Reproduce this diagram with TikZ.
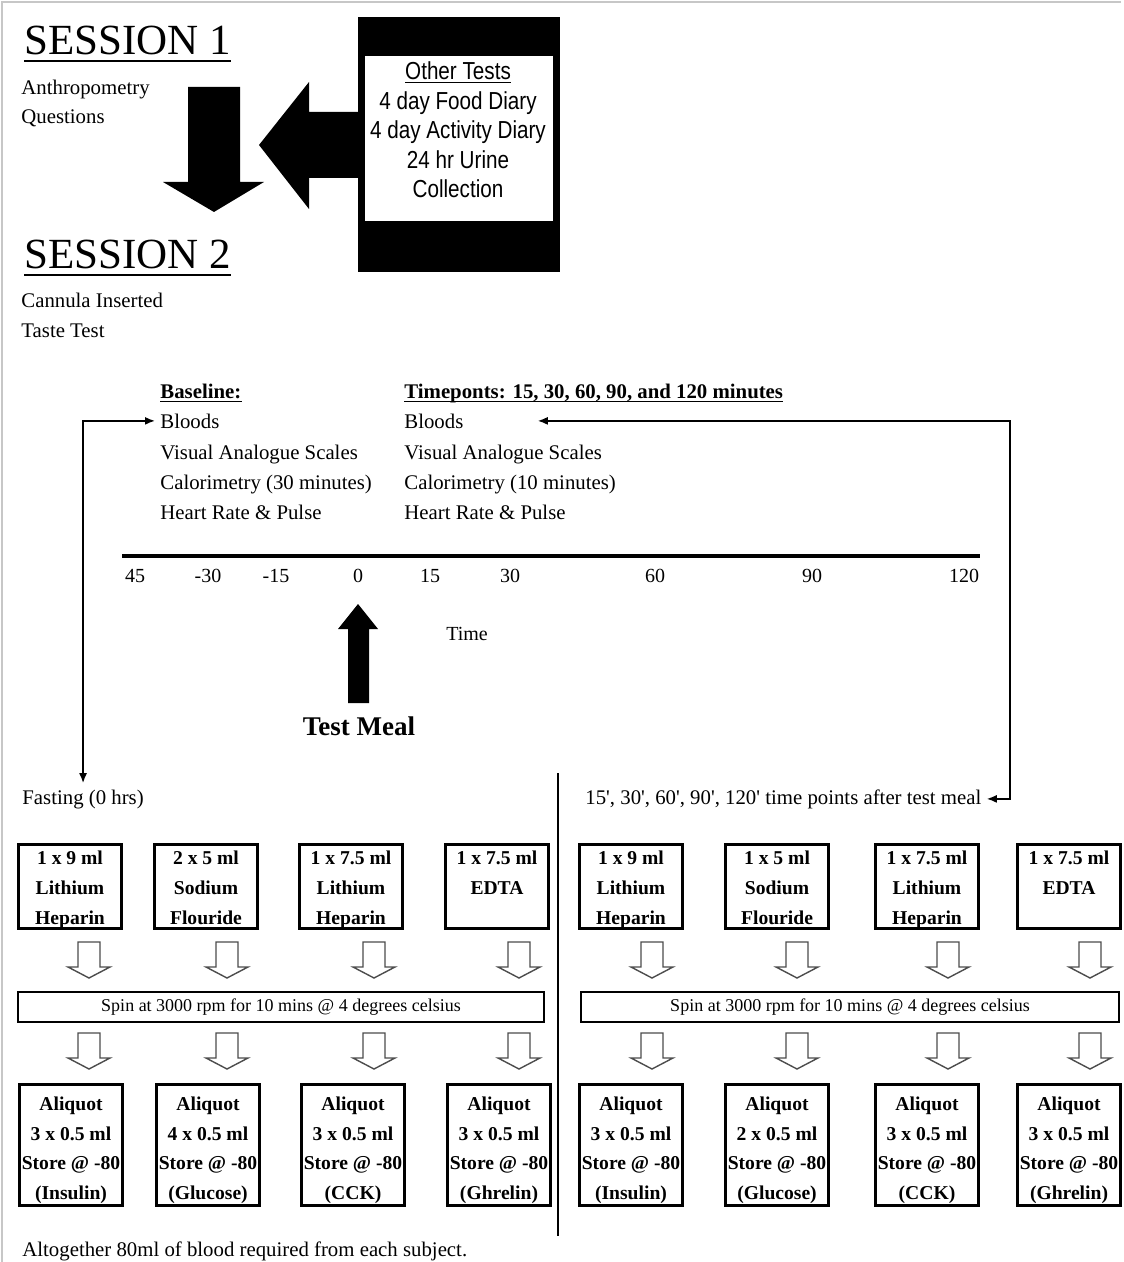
\documentclass[tikz,border=0pt]{standalone}
\usepackage{fontspec}
\setmainfont{Liberation Serif}
\newfontfamily\narrowsans[FakeStretch=0.84]{Liberation Sans}
\usetikzlibrary{arrows.meta,calc,positioning}
\newcommand\tubetop{\rule{0pt}{9.8pt}}
\newcommand\alitop{\rule{0pt}{12pt}}
\tikzset{
txt/.style={
  inner sep=0pt,
  anchor=base west,
  font=\fontsize{10.4}{12}\selectfont,
  }
}
\tikzset{
headtxt/.style={
  txt,
  font=\fontsize{10.4}{12}\selectfont\bfseries,
  }
}
\tikzset{
title/.style={
  inner sep=0pt,
  anchor=base west,
  font=\fontsize{21.5}{24}\selectfont,
  }
}
\tikzset{
tick/.style={
  inner sep=0pt,
  anchor=base,
  font=\fontsize{10}{12}\selectfont,
  }
}
\tikzset{
tube/.style={
  draw=black,
  line width=1.5pt,
  minimum width=51.5pt,
  minimum height=42pt,
  inner sep=0pt,
  align=center,
  font=\fontsize{9.8}{15}\selectfont\bfseries,
  }
}
\tikzset{
aliquot/.style={
  tube,
  minimum height=60.5pt,
  font=\fontsize{9.8}{14.7}\selectfont\bfseries,
  }
}
\tikzset{
spinbox/.style={
  draw=black,
  line width=1.3pt,
  minimum height=15pt,
  inner sep=0pt,
  font=\fontsize{9}{11}\selectfont,
  }
}
\tikzset{
myline/.style={
  line width=0.8pt,
  {Latex[length=5pt,width=4pt]}-{Latex[length=5pt,width=4pt]}
  }
}
\tikzset{
hollowdown/.pic={
  \draw[line width=0.7pt, draw=black!70, fill=white] (-11,0) -- (11,0) -- (11,25) -- (21,25) -- (0,36) -- (-21,25) -- (-11,25) -- cycle;
  }
}

\begin{document}
\begin{tikzpicture}[x=0.5pt,y=-0.5pt]
    \useasboundingbox (0,0) rectangle (1123,1262);
    \draw[black!22, line width=1pt] (2,1262) -- (2,2) -- (1121,2);

    % session 1
    \node[title] (ses1) at (24,55) {SESSION 1};
    \draw[line width=0.9pt] ([yshift=-3pt]ses1.base west) -- ([yshift=-3pt]ses1.base east);
    \node[txt] (anthro) at (21,95) {Anthropometry};
    \node[txt] (quest) at (21,124) {Questions};

    % other tests box
    \node[fill=black, minimum width=101pt, minimum height=127.5pt, inner sep=0pt] (testbg) at (459,144.5) {};
    \node[fill=white, minimum width=94pt, minimum height=82.5pt, inner sep=0pt] (testwin) at (459,138.5) {};
    \node[inner sep=0pt, align=center, font=\narrowsans\fontsize{12.3}{14.75}\selectfont] (tests) at (458,130)
        {\underline{Other Tests}\\4 day Food Diary\\4 day Activity Diary\\24 hr Urine\\Collection};

    % big arrows
    \fill (188,87) -- (240,87) -- (240,182) -- (264,182) -- (214,212) -- (163,182) -- (188,182) -- cycle;
    \fill (358,112) -- (309,112) -- (309,82) -- (259,145) -- (309,209) -- (309,178) -- (358,178) -- cycle;

    % session 2
    \node[title] (ses2) at (24,269) {SESSION 2};
    \draw[line width=0.9pt] ([yshift=-3pt]ses2.base west) -- ([yshift=-3pt]ses2.base east);
    \node[txt] (cannula) at (21,307) {Cannula Inserted};
    \node[txt] (taste) at (21,337) {Taste Test};

    % baseline part
    \node[headtxt] (bhead) at (160,398) {Baseline:};
    \draw[line width=0.7pt] ([yshift=-1.6pt]bhead.base west) -- ([yshift=-1.6pt]bhead.base east);
    \node[txt] (blA) at (160,428) {Bloods};
    \node[txt] (vasA) at (160,459) {Visual Analogue Scales};
    \node[txt] (calA) at (160,489) {Calorimetry (30 minutes)};
    \node[txt] (hrA) at (160,519) {Heart Rate \& Pulse};

    % timepoints part
    \node[headtxt] (thead) at (404,398) {Timeponts: 15, 30, 60, 90, and 120 minutes};
    \draw[line width=0.7pt] ([yshift=-1.6pt]thead.base west) -- ([yshift=-1.6pt]thead.base east);
    \node[txt] (blB) at (404,428) {Bloods};
    \node[txt] (vasB) at (404,459) {Visual Analogue Scales};
    \node[txt] (calB) at (404,489) {Calorimetry (10 minutes)};
    \node[txt] (hrB) at (404,519) {Heart Rate \& Pulse};

    % time line
    \draw[line width=1.6pt] (122,556) -- (980,556);
    \foreach \lab/\px in {45/135, -30/208, -15/276, 0/358, 15/430, 30/510, 60/655, 90/812, 120/964}
        \node[tick] (t\px) at (\px,582) {\lab};
    \node[tick] (time) at (467,640) {Time};
    \fill (348,703) -- (348,629) -- (338,629) -- (358,604) -- (378,629) -- (369,629) -- (369,703) -- cycle;
    \node[tick, font=\fontsize{13.5}{16}\selectfont\bfseries] (meal) at (359,735) {Test Meal};

    % sample headings
    \node[txt] (fast) at (22,804) {Fasting (0 hrs)};
    \node[txt] (tp) at (585,804) {15\textquotesingle, 30\textquotesingle, 60\textquotesingle, 90\textquotesingle, 120\textquotesingle{} time points after test meal};
    \coordinate (rturn) at (1010,600);
    \draw[line width=0.8pt] (558,773) -- (558,1236);

    % connectors
    \draw[myline, shorten <=2.5pt, shorten >=3pt] (blA.west) -| (fast.north);
    \draw[myline, shorten >=2.5pt] ([xshift=37pt]blB.east) -| (rturn) |- (tp.east);

    % fasting tubes
    \node[tube] (ft1) at (70,886.5) {\tubetop 1 x 9 ml\\Lithium\\Heparin};
    \node[tube] (ft2) at (206,886.5) {\tubetop 2 x 5 ml\\Sodium\\Flouride\vphantom{p}};
    \node[tube] (ft3) at (351,886.5) {\tubetop 1 x 7.5 ml\\Lithium\\Heparin};
    \node[tube] (ft4) at (497,886.5) {\tubetop 1 x 7.5 ml\\EDTA\\\vphantom{p}};
    \node[spinbox, minimum width=263pt] (fspin) at (281,1007) {Spin at 3000 rpm for 10 mins @ 4 degrees celsius};
    \node[aliquot] (fa1) at (71,1145) {\alitop Aliquot\\3 x 0.5 ml\\Store @ -80\\(Insulin)};
    \node[aliquot] (fa2) at (208,1145) {\alitop Aliquot\\4 x 0.5 ml\\Store @ -80\\(Glucose)};
    \node[aliquot] (fa3) at (353,1145) {\alitop Aliquot\\3 x 0.5 ml\\Store @ -80\\(CCK)};
    \node[aliquot] (fa4) at (499,1145) {\alitop Aliquot\\3 x 0.5 ml\\Store @ -80\\(Ghrelin)};

    % timepoint tubes
    \node[tube] (pt1) at (631,886.5) {\tubetop 1 x 9 ml\\Lithium\\Heparin};
    \node[tube] (pt2) at (777,886.5) {\tubetop 1 x 5 ml\\Sodium\\Flouride\vphantom{p}};
    \node[tube] (pt3) at (927,886.5) {\tubetop 1 x 7.5 ml\\Lithium\\Heparin};
    \node[tube] (pt4) at (1069,886.5) {\tubetop 1 x 7.5 ml\\EDTA\\\vphantom{p}};
    \node[spinbox, minimum width=269pt] (pspin) at (850,1007) {Spin at 3000 rpm for 10 mins @ 4 degrees celsius};
    \node[aliquot] (pa1) at (631,1145) {\alitop Aliquot\\3 x 0.5 ml\\Store @ -80\\(Insulin)};
    \node[aliquot] (pa2) at (777,1145) {\alitop Aliquot\\2 x 0.5 ml\\Store @ -80\\(Glucose)};
    \node[aliquot] (pa3) at (927,1145) {\alitop Aliquot\\3 x 0.5 ml\\Store @ -80\\(CCK)};
    \node[aliquot] (pa4) at (1069,1145) {\alitop Aliquot\\3 x 0.5 ml\\Store @ -80\\(Ghrelin)};

    % hollow arrows
    \foreach \px in {89,227,374,519,652,797,948,1090} {
        \pic at (\px,942) {hollowdown};
        \pic at (\px,1033) {hollowdown};
    }

    \node[txt] (total) at (22,1256) {Altogether 80ml of blood required from each subject.};
\end{tikzpicture}
\end{document}
